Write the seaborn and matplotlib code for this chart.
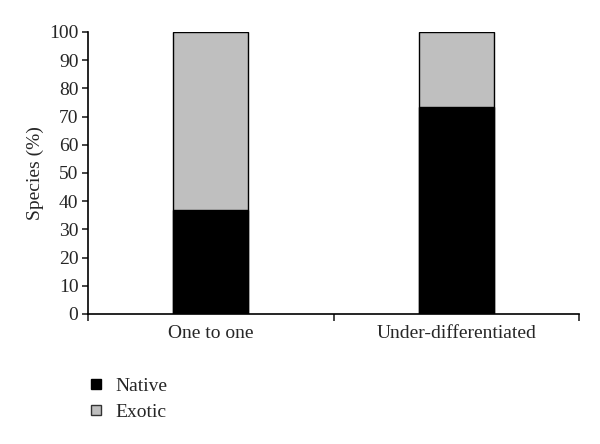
import matplotlib
matplotlib.use("Agg")
import matplotlib.pyplot as plt
import seaborn as sns
import pandas as pd
from matplotlib.lines import Line2D

categories = ["One to one", "Under-differentiated"]
native = [36.8, 73.5]
exotic = [63.2, 26.5]
y_ticks = [0, 10, 20, 30, 40, 50, 60, 70, 80, 90, 100]

sns.set_theme(style="white")
plt.rcParams['font.family'] = ['Liberation Serif', 'DejaVu Serif']

df = pd.DataFrame({"Category": categories, "Native": native, "Exotic": exotic})
df["Total"] = df["Native"] + df["Exotic"]

fig = plt.figure(figsize=(6, 4.44), dpi=100)
ax = fig.add_axes([0.147, 0.293, 0.818, 0.635])

sns.barplot(data=df, x="Category", y="Total", color="#bfbfbf", width=0.306,
            edgecolor="black", linewidth=1.0, saturation=1, ax=ax)
sns.barplot(data=df, x="Category", y="Native", color="black", width=0.306,
            edgecolor="black", linewidth=1.0, saturation=1, ax=ax)

ax.set_xlim(-0.5, 1.5)
ax.set_ylim(0, 100)
ax.set_yticks(y_ticks)
ax.set_xlabel("")
ax.set_ylabel("Species (%)", fontsize=14)
ax.tick_params(axis="y", labelsize=14, length=4, width=1.2, direction="out", left=True, pad=3)
ax.tick_params(axis="x", labelsize=14, length=0, pad=8)
ax.set_xticks([-0.5, 0.5, 1.5], minor=True)
ax.tick_params(axis="x", which="minor", length=5, width=1.2, direction="out", bottom=True)

for s in ["top", "right"]:
    ax.spines[s].set_visible(False)
for s in ["left", "bottom"]:
    ax.spines[s].set_color("black")
    ax.spines[s].set_linewidth(1.2)

handles = [
    Line2D([], [], marker="s", linestyle="", markersize=7, markerfacecolor="black", markeredgecolor="black"),
    Line2D([], [], marker="s", linestyle="", markersize=7, markerfacecolor="#bfbfbf", markeredgecolor="#333333"),
]
fig.legend(handles, ["Native", "Exotic"], loc="upper left", bbox_to_anchor=(0.115, 0.19),
           frameon=False, fontsize=14, handlelength=1.0, handletextpad=0.5, labelspacing=0.45)

fig.savefig("out.png", dpi=100)
